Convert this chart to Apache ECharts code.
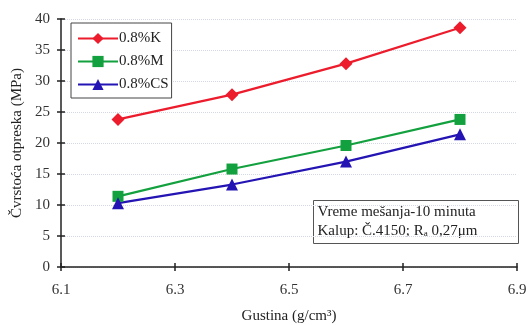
<!DOCTYPE html>
<html>
<head>
<meta charset="utf-8">
<script src="https://cdn.jsdelivr.net/npm/echarts@6/dist/echarts.min.js"></script>
<style>
  html, body { margin: 0; padding: 0; background: #fff; }
  #chart { width: 528px; height: 325px; }
</style>
</head>
<body>
<div id="chart"></div>
<script>
// Density (g/cm3) on x, compact strength (MPa) on y
const density = [6.2, 6.4, 6.6, 6.8];
const strengthK = [23.8, 27.8, 32.8, 38.6];
const strengthM = [11.4, 15.8, 19.6, 23.8];
const strengthCS = [10.3, 13.3, 17.0, 21.4];
const xTicks = [6.1, 6.3, 6.5, 6.7, 6.9];
const seriesNames = ['0.8%K', '0.8%M', '0.8%CS'];

const serif = 'Liberation Serif, Times New Roman, serif';
const pairs = (ys) => density.map((x, i) => [x, ys[i]]);

const chart = echarts.init(document.getElementById('chart'));
const seriesDefs = [
  { name: seriesNames[0], data: strengthK, color: '#ec1c2c', symbol: 'diamond', size: 13 },
  { name: seriesNames[1], data: strengthM, color: '#13a03e', symbol: 'rect', size: 11 },
  { name: seriesNames[2], data: strengthCS, color: '#2414b4', symbol: 'triangle', size: 12 }
];

chart.setOption({
  animation: false,
  backgroundColor: '#fff',
  grid: { left: 61, right: 11, top: 19, bottom: 58, outerBoundsMode: 'none', containLabel: false },
  legend: {
    orient: 'vertical',
    left: 71, top: 23,
    padding: [8, 3, 6, 6],
    itemGap: 8,
    itemWidth: 40, itemHeight: 14,
    borderColor: '#444', borderWidth: 1,
    backgroundColor: '#fff',
    textStyle: { fontFamily: serif, fontSize: 15, color: '#222', padding: [0, 0, 0, -4] },
    data: seriesNames
  },
  xAxis: [{
    type: 'value', min: 6.1, max: 6.9,
    name: 'Gustina (g/cm³)', nameLocation: 'middle', nameGap: 42,
    nameTextStyle: { fontFamily: serif, fontSize: 15, color: '#222' },
    axisLine: { lineStyle: { color: '#222', width: 1.5 } },
    axisTick: { show: true, length: 4, customValues: xTicks, lineStyle: { color: '#222', width: 1.5 } },
    axisLabel: { customValues: xTicks, fontFamily: serif, fontSize: 15, color: '#333', margin: 16,
      formatter: v => v.toFixed(1) },
    splitLine: { show: false }
  }, {
    // inner half of the crossing ticks on the bottom axis
    type: 'value', min: 6.1, max: 6.9, position: 'bottom',
    axisLine: { show: false },
    axisTick: { show: true, inside: true, length: 4, customValues: xTicks, lineStyle: { color: '#222', width: 1.5 } },
    axisLabel: { show: false }, splitLine: { show: false }
  }],
  yAxis: [{
    type: 'value', min: 0, max: 40, interval: 5,
    name: 'Čvrstoća otpreska (MPa)', nameLocation: 'middle', nameGap: 34,
    nameTextStyle: { fontFamily: serif, fontSize: 15, color: '#222' },
    axisLine: { show: true, lineStyle: { color: '#222', width: 1.5 } },
    axisTick: { show: true, length: 4, lineStyle: { color: '#222', width: 1.5 } },
    axisLabel: { fontFamily: serif, fontSize: 15, color: '#333', margin: 11 },
    splitLine: { show: true, lineStyle: { color: '#d4d8e4', type: 'dotted', width: 1 } }
  }, {
    type: 'value', min: 0, max: 40, interval: 5, position: 'left',
    axisLine: { show: false },
    axisTick: { show: true, inside: true, length: 4, lineStyle: { color: '#222', width: 1.5 } },
    axisLabel: { show: false }, splitLine: { show: false }
  }],
  series: seriesDefs.map(s => ({
    name: s.name, type: 'line', data: pairs(s.data),
    symbol: s.symbol, symbolSize: s.size,
    itemStyle: { color: s.color },
    lineStyle: { color: s.color, width: 2.2 }
  })),
  graphic: [{
    type: 'group', left: 313, top: 200,
    children: [
      { type: 'rect', shape: { x: 0, y: 0, width: 205, height: 43 },
        style: { fill: '#fff', stroke: '#555', lineWidth: 1 } },
      { type: 'text', left: 4, top: 4,
        style: { text: 'Vreme mešanja-10 minuta', font: '15px ' + serif, fill: '#222' } },
      { type: 'text', left: 4, top: 23,
        style: {
          text: 'Kalup: Č.4150; R{sub|a} 0,27μm',
          font: '15px ' + serif, fill: '#222',
          rich: { sub: { fontSize: 9, fontFamily: serif, verticalAlign: 'bottom', padding: [6, 0, 0, 0], fill: '#222' } }
        } }
    ]
  }]
});
</script>
</body>
</html>
